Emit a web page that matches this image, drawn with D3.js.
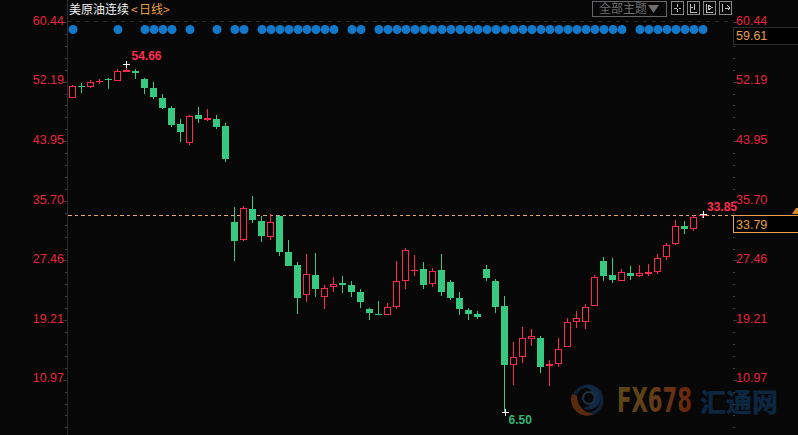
<!DOCTYPE html>
<html><head><meta charset="utf-8">
<script src="https://cdn.jsdelivr.net/npm/d3@7/dist/d3.min.js"></script>
<style>html,body{margin:0;padding:0;background:#070708;overflow:hidden}svg{display:block}
text{font-family:"Liberation Sans",Arial,sans-serif}</style></head><body>
<script>
const chartTitle = "美原油连续";
const periodLabel = "日线";
const themeLabel = "全部主题";
const tickLabels = ["60.44","52.19","43.95","35.70","27.46","19.21","10.97"];
const opens = [49.97,51.63,51.49,52.16,52.50,52.32,53.56,53.70,52.55,51.31,49.92,48.54,46.33,43.65,47.57,46.88,47.02,46.05,
 32.77,30.28,34.56,32.90,30.69,33.60,28.61,26.82,22.66,25.43,22.39,23.77,24.32,24.05,23.08,20.73,20.04,19.90,21.00,24.64,25.98,26.26,24.19,26.12,24.46,22.25,20.59,20.04,26.26,24.60,21.14,13.02,14.08,16.58,16.71,12.84,13.12,15.47,18.93,18.93,21.14,27.37,25.43,24.60,25.71,25.29,25.57,25.85,27.92,29.72,32.21,31.80,33.60];
const closes = [51.58,51.52,52.10,52.25,52.41,53.62,53.80,53.43,51.31,50.06,48.54,46.19,45.22,47.39,47.02,47.16,45.91,41.48,
 30.14,34.70,33.04,30.83,32.77,28.61,26.68,22.25,25.57,23.49,23.63,24.19,24.05,23.08,21.70,20.17,19.90,21.00,24.60,28.89,26.12,24.05,25.98,23.08,22.25,20.73,20.04,19.62,25.02,21.00,12.98,14.04,16.71,16.99,12.70,13.12,15.19,18.93,19.48,21.00,25.16,25.29,24.74,25.85,25.29,25.71,25.85,27.78,29.58,32.21,31.80,33.46,33.73];
const highs = [51.72,51.96,52.41,52.51,52.73,53.89,54.66,53.94,52.69,52.14,50.48,48.82,47.02,47.57,48.68,48.40,47.57,46.46,
 34.84,34.98,36.36,33.60,33.87,33.73,30.28,27.23,28.34,28.48,24.05,25.16,25.29,24.60,23.49,20.87,21.83,21.56,27.37,29.17,28.20,27.23,26.40,28.34,24.73,23.08,20.87,20.45,26.82,24.88,22.53,16.16,18.23,17.96,16.99,13.67,16.71,19.48,20.45,21.42,25.43,27.92,27.78,26.26,26.68,26.82,26.95,28.34,29.86,33.04,32.90,33.73,33.85];
const lows = [49.92,50.66,51.31,51.86,51.17,52.32,53.56,52.55,50.48,49.78,48.40,45.91,43.83,43.42,46.46,46.74,45.63,41.07,
 27.37,30.14,32.63,30.00,30.28,28.06,26.68,20.04,21.70,22.39,20.73,23.08,22.94,22.39,20.87,19.20,19.90,19.90,20.73,23.49,25.29,23.49,23.77,22.53,21.97,19.90,19.20,19.34,24.60,20.17,6.50,10.21,13.26,15.61,11.87,10.07,12.70,15.47,18.10,17.96,21.14,24.60,24.32,24.60,24.74,25.16,25.29,25.57,27.51,29.58,31.10,31.52,33.32];
const signalDays = [0,5,8,9,10,11,13,16,18,19,21,22,23,24,25,26,27,28,29,31,32,34,35,36,37,38,39,40,41,42,43,44,45,46,47,48,49,50,51,52,53,54,55,56,57,58,59,60,61,63,64,65,66,67,68,69,70];
const highMark = {i:6, v:54.66, t:"54.66"};
const lowMark = {i:48, v:6.50, t:"6.50"};
const lastMark = {i:70, v:33.85, t:"33.85"};
const lastPrice = 33.79, lastText = "33.79", capText = "59.61";

const RED="#ff2b4e", GREEN="#37c97f", TICK="#e8243f", W=798, H=435;
const svg=d3.select("body").append("svg").attr("width",W).attr("height",H).style("background","#070708");
const x=d3.scaleLinear().domain([0,70]).range([72.5,702.5]);
const y=d3.scaleLinear().domain([60.44,10.97]).range([22,379.5]);
const py=v=>Math.round(y(v));

// logo watermark (behind everything)
const logo=svg.append("g");
const cx=588,cy=400;
logo.append("circle").attr("cx",cx).attr("cy",cy).attr("r",14).attr("fill","none").attr("stroke","#0e2238").attr("stroke-width",3);
logo.append("path").attr("d",`M${cx-16} ${cy-6}A16 16 0 0 0 ${cx+6} ${cy+14}A18 18 0 0 1 ${cx-11} ${cy-4}Z`).attr("fill","#5a2a10");
logo.append("path").attr("d",`M${cx-5} ${cy-13}A12 12 0 1 1 ${cx-5} ${cy+8}A9 9 0 1 0 ${cx-5} ${cy-13}Z`).attr("fill","#0f2844");
logo.append("circle").attr("cx",cx+1).attr("cy",cy-2).attr("r",6).attr("fill","none").attr("stroke","#1e3040").attr("stroke-width",2);
const grad=svg.append("defs").append("linearGradient").attr("id","fx").attr("gradientUnits","userSpaceOnUse").attr("x1",617).attr("x2",692).attr("y1",0).attr("y2",0);
grad.append("stop").attr("offset",0).attr("stop-color","#5e4816");
grad.append("stop").attr("offset",.5).attr("stop-color","#633d16");
grad.append("stop").attr("offset",1).attr("stop-color","#6a250c");
logo.append("text").attr("x",617).attr("y",412).attr("font-size",33).attr("font-weight",700).attr("fill","url(#fx)").attr("textLength",75).attr("lengthAdjust","spacingAndGlyphs").attr("style",'font-family:"DejaVu Sans"').text("FX678");
logo.append("text").attr("x",700).attr("y",412).attr("font-size",26).attr("font-weight",900).attr("fill","#0d2640").attr("style",'font-family:"Noto Sans CJK SC"').text("汇通网");

// axes
const crisp=s=>s.attr("shape-rendering","crispEdges");
crisp(svg.append("line").attr("x1",67.5).attr("x2",67.5).attr("y1",0).attr("y2",H).attr("stroke","#2b2b2d"));
crisp(svg.append("line").attr("x1",67).attr("x2",732).attr("y1",21.5).attr("y2",21.5).attr("stroke","#2a2a2c").attr("stroke-dasharray","4 5"));
const step=(+tickLabels[0]-+tickLabels[1])/5;
const minor=d3.range(0,36).map(k=>+tickLabels[0]-k*step).filter(v=>y(v)<H);
minor.forEach((v,k)=>{
  const p=Math.round(y(v))+.5, major=k%5===0;
  crisp(svg.append("line").attr("x1",major?63:65).attr("x2",67).attr("y1",p).attr("y2",p).attr("stroke","#3a3a3c"));
  crisp(svg.append("line").attr("x1",733).attr("x2",major?737:735).attr("y1",p).attr("y2",p).attr("stroke","#3a3a3c"));
});
tickLabels.forEach(t=>{
  const yy=y(+t)-1.5;
  svg.append("text").attr("x",64).attr("y",yy).attr("dy",".35em").attr("text-anchor","end").attr("font-size",12.5).attr("fill",TICK).text(t);
  svg.append("text").attr("x",736).attr("y",yy).attr("dy",".35em").attr("font-size",12.5).attr("fill",TICK).text(t);
});

// signal dots
svg.append("g").selectAll("circle").data(signalDays).join("circle")
 .attr("cx",d=>x(d)+.5).attr("cy",29.5).attr("r",4.5).attr("fill","#1478c8");

// last price line
crisp(svg.append("line").attr("x1",68).attr("x2",733).attr("y1",py(lastPrice)+.5).attr("y2",py(lastPrice)+.5).attr("stroke","#e8a866").attr("stroke-dasharray","3.5 3"));

// candles
const days=d3.range(opens.length);
const g=svg.append("g").attr("shape-rendering","crispEdges");
days.forEach(i=>{
  const up=closes[i]>=opens[i], c=up?RED:GREEN, X=Math.floor(x(i));
  g.append("rect").attr("x",X).attr("width",1).attr("y",py(highs[i])).attr("height",Math.max(1,py(lows[i])-py(highs[i]))).attr("fill",c);
  const t=py(Math.max(opens[i],closes[i])), b=py(Math.min(opens[i],closes[i]));
  if(b-t<=2) g.append("rect").attr("x",X-3).attr("width",7).attr("y",t).attr("height",Math.max(1,b-t)).attr("fill",c);
  else if(up) g.append("rect").attr("x",X-2.5).attr("width",6).attr("y",t+.5).attr("height",b-t-1).attr("fill","#070708").attr("stroke",c);
  else g.append("rect").attr("x",X-3).attr("width",7).attr("y",t).attr("height",b-t).attr("fill",c);
});

// extreme markers
function cross(px,p){
  g.append("rect").attr("x",px-3).attr("y",p).attr("width",7).attr("height",1).attr("fill","#fff");
  g.append("rect").attr("x",px).attr("y",p-3).attr("width",1).attr("height",7).attr("fill","#fff");
}
cross(Math.floor(x(highMark.i)),py(highMark.v));
svg.append("text").attr("x",x(highMark.i)+5).attr("y",py(highMark.v)-8).attr("dy",".35em").attr("font-size",12).attr("font-weight",700).attr("fill",RED).text(highMark.t);
cross(Math.floor(x(lowMark.i))+1,py(lowMark.v));
svg.append("text").attr("x",x(lowMark.i)+4).attr("y",py(lowMark.v)+8).attr("dy",".35em").attr("font-size",12).attr("font-weight",700).attr("fill","#2fb574").text(lowMark.t);
cross(Math.floor(x(lastMark.i))+1,py(lastMark.v));
svg.append("text").attr("x",x(lastMark.i)+4.5).attr("y",py(lastMark.v)-7).attr("dy",".35em").attr("font-size",12).attr("font-weight",700).attr("fill",RED).text(lastMark.t);

// right price boxes
crisp(svg.append("rect").attr("x",733.5).attr("y",27.5).attr("width",70).attr("height",17).attr("fill","#000").attr("stroke","#2b2b2d"));
svg.append("text").attr("x",736).attr("y",36).attr("dy",".35em").attr("font-size",12.5).attr("fill","#e8a040").text(capText);
crisp(svg.append("rect").attr("x",733.5).attr("y",py(lastPrice)+.5).attr("width",70).attr("height",17).attr("fill","#000").attr("stroke","#e8a050"));
svg.append("text").attr("x",736).attr("y",py(lastPrice)+9.5).attr("dy",".35em").attr("font-size",12.5).attr("fill","#e8a040").text(lastText);
svg.append("path").attr("d","M792 214L796 208L798 208L798 214Z").attr("fill","#d88a30");

// title
const cjk='font-family:"Noto Sans CJK SC"';
svg.append("text").attr("x",69).attr("y",14).attr("font-size",12).attr("fill","#f2f2f2").attr("style",cjk).text(chartTitle);
svg.append("text").attr("x",131).attr("y",14).attr("font-size",12).attr("fill","#e8a040").attr("style",cjk).text("<");
svg.append("text").attr("x",139).attr("y",14).attr("font-size",12).attr("fill","#e8a040").attr("style",cjk).text(periodLabel);
svg.append("text").attr("x",163).attr("y",14).attr("font-size",12).attr("fill","#e8a040").attr("style",cjk).text(">");

// toolbar
crisp(svg.append("rect").attr("x",592.5).attr("y",1).attr("width",74).attr("height",15).attr("fill","none").attr("stroke","#666"));
svg.append("text").attr("x",599).attr("y",13).attr("font-size",12).attr("fill","#6e6e6e").attr("style",cjk).text(themeLabel);
svg.append("path").attr("d","M648 5H659L653.5 13Z").attr("fill","#6e6e6e");
[671,687,703,719].forEach((bx,k)=>{
  const b=svg.append("g").attr("transform",`translate(${bx},1)`);
  crisp(b.append("rect").attr("x",.5).attr("y",.5).attr("width",12).attr("height",13).attr("fill","none").attr("stroke","#888"));
  const d=["M6.5 3V6M6.5 8V11M3 7H5.5M7.5 7H10","M3 3V11H10M7 3V9M4 6H6","M3 3V11H10M5 4V9L9 6.5Z","M3 3V11M6 7H11M8.5 4.5L11 7L8.5 9.5"][k];
  b.append("path").attr("d",d).attr("fill","none").attr("stroke","#bbb").attr("shape-rendering","crispEdges");
});
</script></body></html>
